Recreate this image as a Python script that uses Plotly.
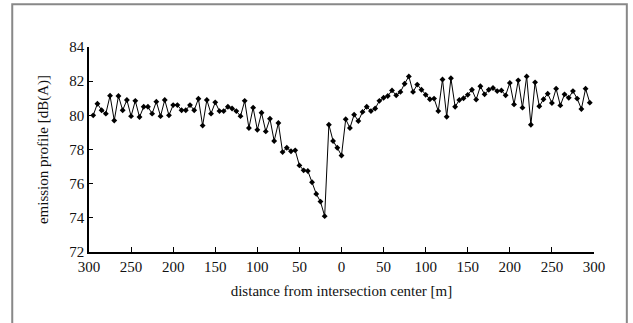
import plotly.graph_objects as go

distance = list(range(-295, 300, 5))
emission = [
    80.0, 80.68, 80.3, 80.1, 81.15, 79.7, 81.13, 80.3, 80.9, 79.95,
    80.85, 79.9, 80.5, 80.5, 80.1, 80.8, 79.95, 80.9, 80.0, 80.6,
    80.6, 80.3, 80.3, 80.6, 80.3, 80.97, 79.4, 80.9, 80.1, 80.76,
    80.25, 80.25, 80.5, 80.4, 80.25, 79.95, 80.85, 79.26, 80.45, 79.15,
    80.15, 79.06, 79.8, 78.5, 79.55, 77.85, 78.1, 77.9, 77.95, 77.07,
    76.78, 76.74, 76.08, 75.4, 74.95, 74.1, 79.45, 78.5, 78.1, 77.65,
    79.77, 79.26, 80.04, 79.67, 80.2, 80.5, 80.25, 80.4, 80.85, 81.03,
    81.13, 81.46, 81.17, 81.37, 81.85, 82.28, 81.37, 81.8, 81.5, 81.2,
    80.94, 80.98, 80.25, 82.1, 79.92, 82.17, 80.5, 80.9, 81.0, 81.2,
    81.5, 80.92, 81.7, 81.23, 81.5, 81.6, 81.42, 81.46, 81.17, 81.9,
    80.64, 82.05, 80.45, 82.28, 79.45, 81.93, 80.53, 80.94, 81.27, 80.72,
    81.56, 80.58, 81.23, 81.03, 81.42, 80.98, 80.37, 81.56, 80.74,
]
x_tickvals = list(range(-300, 301, 50))
x_ticktext = [str(abs(v)) for v in x_tickvals]
y_tickvals = [72, 74, 76, 78, 80, 82, 84]

font = dict(family="Liberation Serif, Times New Roman, serif", size=15, color="#111")

fig = go.Figure()
fig.add_trace(go.Scatter(
    x=distance, y=emission, mode="lines+markers",
    line=dict(color="black", width=1),
    marker=dict(symbol="diamond", size=4.5, color="black"),
    showlegend=False,
))

fig.update_layout(
    width=633, height=323,
    margin=dict(l=89, r=39, t=47, b=71),
    paper_bgcolor="white", plot_bgcolor="white",
    font=font,
    xaxis=dict(
        range=[-300, 300], tickvals=x_tickvals, ticktext=x_ticktext,
        showgrid=False, zeroline=False, showline=True, linecolor="black", linewidth=1.5,
        ticks="inside", ticklen=5, tickcolor="black",
        title=dict(text="distance from intersection center [m]", font=font, standoff=12),
        tickfont=font,
    ),
    yaxis=dict(
        range=[72, 84], tickvals=y_tickvals,
        showgrid=False, zeroline=False, showline=True, linecolor="black", linewidth=1.5,
        ticks="inside", ticklen=4, tickcolor="black",
        title=dict(text="emission profile [dB(A)]", font=font, standoff=17),
        tickfont=font,
    ),
    shapes=[dict(
        type="rect", xref="paper", yref="paper",
        x0=-0.152, x1=1.065, y0=-0.45, y1=1.208,
        line=dict(color="#888888", width=2), fillcolor="rgba(0,0,0,0)",
        layer="below",
    )],
)

fig.write_html("out.html")
